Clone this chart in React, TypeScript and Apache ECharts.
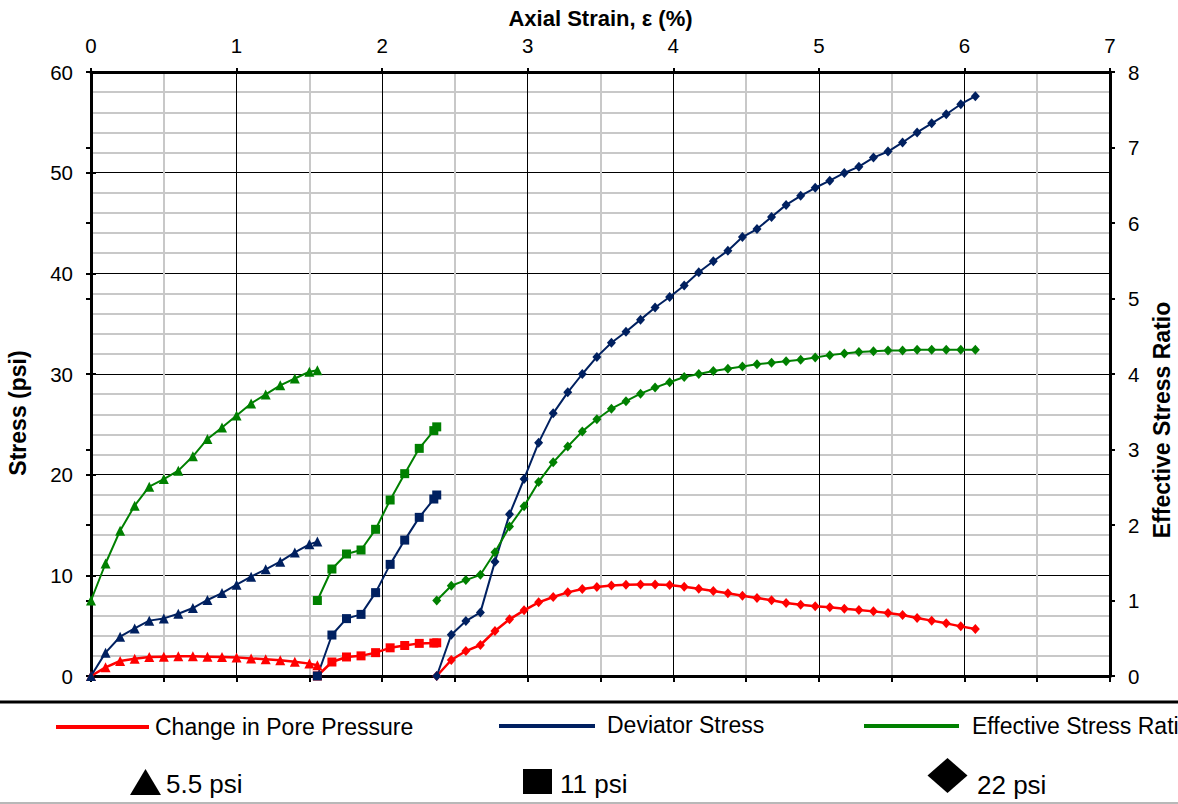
import React, { useEffect, useRef } from "react";
import * as echarts from "echarts";

// Axial strain (%) at each reading, per confining pressure
const strain55 = [0, 0.1, 0.2, 0.3, 0.4, 0.5, 0.6, 0.7, 0.8, 0.9, 1.0, 1.1, 1.2, 1.3, 1.4, 1.5, 1.555];
const strain11 = [1.555, 1.655, 1.755, 1.855, 1.955, 2.055, 2.155, 2.255, 2.355, 2.375];
const strain22 = [
  2.375, 2.475, 2.575, 2.675, 2.775, 2.875, 2.975, 3.075, 3.175, 3.275,
  3.375, 3.475, 3.575, 3.675, 3.775, 3.875, 3.975, 4.075, 4.175, 4.275,
  4.375, 4.475, 4.575, 4.675, 4.775, 4.875, 4.975, 5.075, 5.175, 5.275,
  5.375, 5.475, 5.575, 5.675, 5.775, 5.875, 5.975, 6.075,
];

// Change in pore pressure (psi)
const pore55 = [0, 0.86, 1.49, 1.72, 1.89, 1.92, 1.95, 1.95, 1.92, 1.89, 1.85, 1.75, 1.66, 1.56, 1.42, 1.23, 1.06];
const pore11 = [0, 1.39, 1.89, 2.0, 2.32, 2.8, 3.03, 3.24, 3.27, 3.3];
const pore22 = [
  0, 1.59, 2.48, 3.08, 4.47, 5.63, 6.52, 7.32, 7.85, 8.31,
  8.64, 8.84, 8.99, 9.07, 9.1, 9.08, 9.03, 8.87, 8.66, 8.44,
  8.21, 7.98, 7.75, 7.52, 7.25, 7.08, 6.92, 6.82, 6.69, 6.56,
  6.42, 6.26, 6.06, 5.76, 5.5, 5.23, 4.93, 4.67,
];

// Deviator stress (psi)
const dev55 = [0, 2.32, 3.9, 4.72, 5.5, 5.72, 6.18, 6.75, 7.55, 8.24, 9.07, 9.87, 10.6, 11.36, 12.28, 13.08, 13.35];
const dev11 = [0, 4.07, 5.7, 6.12, 8.28, 11.09, 13.5, 15.76, 17.58, 17.98];
const dev22 = [
  0, 4.1, 5.46, 6.32, 11.36, 16.06, 19.57, 23.18, 26.09, 28.18,
  30.0, 31.7, 33.1, 34.2, 35.4, 36.6, 37.65, 38.8, 40.1, 41.2,
  42.25, 43.6, 44.4, 45.6, 46.8, 47.7, 48.5, 49.2, 49.97, 50.6,
  51.5, 52.1, 53.0, 54.0, 54.9, 55.8, 56.8, 57.6,
];

// Effective stress ratio (right axis)
const esr55 = [1.0, 1.49, 1.925, 2.256, 2.508, 2.609, 2.72, 2.91, 3.14, 3.29, 3.45, 3.61, 3.73, 3.85, 3.94, 4.03, 4.05];
const esr11 = [1.0, 1.417, 1.616, 1.669, 1.943, 2.331, 2.68, 3.015, 3.25, 3.3];
const esr22 = [
  1.0, 1.196, 1.27, 1.34, 1.64, 1.98, 2.25, 2.57, 2.83, 3.04,
  3.24, 3.4, 3.54, 3.64, 3.74, 3.82, 3.89, 3.96, 4.0, 4.04,
  4.07, 4.1, 4.13, 4.15, 4.17, 4.19, 4.22, 4.25, 4.27, 4.29,
  4.3, 4.31, 4.31, 4.32, 4.32, 4.32, 4.32, 4.32,
];

const xTicks = [0, 7];
const stressRange = [0, 60];
const ratioRange = [0, 8];

const FONT = "'Liberation Sans', Arial, Helvetica, sans-serif";
const RED = "#ff0000";
const NAVY = "#002060";
const GREEN = "#008000";

type Group = {
  label: string;
  symbol: string;
  size: number | number[];
  x: number[];
  pore: number[];
  dev: number[];
  esr: number[];
};

const groups: Group[] = [
  { label: "5.5 psi", symbol: "triangle", size: 10, x: strain55, pore: pore55, dev: dev55, esr: esr55 },
  { label: "11 psi", symbol: "rect", size: 9, x: strain11, pore: pore11, dev: dev11, esr: esr11 },
  { label: "22 psi", symbol: "diamond", size: [9, 10], x: strain22, pore: pore22, dev: dev22, esr: esr22 },
];

function pairs(xs: number[], ys: number[]) {
  return xs.map((x, i) => [x, ys[i]]);
}

function buildSeries() {
  const out: any[] = [];
  groups.forEach((g) => {
    const common = {
      type: "line",
      symbol: g.symbol,
      symbolSize: g.size,
      showSymbol: true,
      emphasis: { disabled: true },
      silent: true,
    };
    out.push({
      ...common,
      name: `Change in Pore Pressure ${g.label}`,
      yAxisIndex: 0,
      color: RED,
      lineStyle: { width: 2.5, color: RED },
      itemStyle: { color: RED },
      data: pairs(g.x, g.pore),
    });
    out.push({
      ...common,
      name: `Deviator Stress ${g.label}`,
      yAxisIndex: 0,
      color: NAVY,
      lineStyle: { width: 2, color: NAVY },
      itemStyle: { color: NAVY },
      data: pairs(g.x, g.dev),
    });
    out.push({
      ...common,
      name: `Effective Stress Ratio ${g.label}`,
      yAxisIndex: 1,
      color: GREEN,
      lineStyle: { width: 2, color: GREEN },
      itemStyle: { color: GREEN },
      data: pairs(g.x, g.esr),
    });
  });
  return out;
}

function legendGraphics() {
  const txt = (x: number, y: number, s: string, size: number) => ({
    type: "text",
    x,
    y,
    style: {
      text: s,
      fontSize: size,
      fontFamily: FONT,
      fill: "#000",
      textVerticalAlign: "middle",
      textAlign: "left",
    },
  });
  const ln = (x1: number, x2: number, y: number, color: string, w: number) => ({
    type: "line",
    shape: { x1, y1: y, x2, y2: y },
    style: { stroke: color, lineWidth: w },
  });
  const vtitle = (x: number, y: number, s: string) => ({
    type: "text",
    x,
    y,
    rotation: Math.PI / 2,
    style: {
      text: s,
      fontSize: 23,
      fontWeight: "bold",
      fontFamily: FONT,
      fill: "#000",
      textAlign: "center",
      textVerticalAlign: "middle",
    },
  });
  return [
    ln(0, 1178, 702, "#000", 3),
    ln(0, 1178, 803, "#a0a0a0", 1.5),
    ln(56, 149, 727, RED, 4),
    txt(155, 727, "Change in Pore Pressure", 23),
    ln(499, 595, 726, NAVY, 4),
    txt(607, 725, "Deviator Stress", 23),
    ln(864, 959, 726, GREEN, 4),
    txt(972, 726, "Effective Stress Ratio", 23),
    {
      type: "polygon",
      shape: { points: [[145.5, 769], [161, 795], [130, 795]] },
      style: { fill: "#000" },
    },
    txt(166, 784, "5.5 psi", 26),
    {
      type: "rect",
      shape: { x: 523, y: 769, width: 29, height: 25 },
      style: { fill: "#000" },
    },
    txt(560, 784, "11 psi", 26),
    {
      type: "polygon",
      shape: { points: [[947.5, 758], [967.5, 775.5], [947.5, 793], [927.5, 775.5]] },
      style: { fill: "#000" },
    },
    txt(977, 785, "22 psi", 26),
    vtitle(18, 413, "Stress (psi)"),
    vtitle(1162, 420, "Effective Stress Ratio"),
  ];
}

export default function App() {
  const ref = useRef<HTMLDivElement>(null);

  useEffect(() => {
    document.body.style.margin = "0";
    if (!ref.current) return;
    const chart = echarts.init(ref.current, null, { renderer: "svg" });

    const labelStyle = { fontSize: 20.5, color: "#000", fontFamily: FONT };
    const blackTick = { color: "#000", width: 2 };

    chart.setOption({
      animation: false,
      backgroundColor: "#fff",
      grid: {
        left: 91,
        right: 68,
        top: 72,
        bottom: 128,
        containLabel: false,
        outerBoundsMode: "none",
      },
      xAxis: [
        {
          type: "value",
          position: "top",
          min: xTicks[0],
          max: xTicks[1],
          interval: 1,
          name: "Axial Strain, ε (%)",
          nameLocation: "middle",
          nameGap: 43,
          nameTextStyle: { fontSize: 22, fontWeight: "bold", color: "#000", fontFamily: FONT },
          axisLine: { show: true, onZero: false, lineStyle: { color: "#000", width: 3 } },
          axisTick: { show: true, inside: false, length: 4, lineStyle: blackTick },
          minorTick: { show: false, splitNumber: 2 },
          axisLabel: { ...labelStyle, margin: 16 },
          splitLine: { show: true, lineStyle: { color: "#000", width: 1 } },
          minorSplitLine: { show: true, lineStyle: { color: "#c8c8c8", width: 2 } },
          z: 3,
        },
        {
          type: "value",
          position: "top",
          min: xTicks[0],
          max: xTicks[1],
          interval: 1,
          axisLine: { show: false },
          axisTick: { show: true, inside: true, length: 6, lineStyle: blackTick },
          minorTick: { show: true, splitNumber: 2, length: 6, lineStyle: blackTick },
          axisLabel: { show: false },
          splitLine: { show: false },
        },
        {
          type: "value",
          position: "bottom",
          min: xTicks[0],
          max: xTicks[1],
          interval: 1,
          axisLine: { show: true, onZero: false, lineStyle: { color: "#000", width: 3 } },
          axisTick: { show: false },
          axisLabel: { show: false },
          splitLine: { show: false },
          z: 3,
        },
      ],
      yAxis: [
        {
          type: "value",
          position: "left",
          min: stressRange[0],
          max: stressRange[1],
          interval: 10,
          axisLine: { show: true, onZero: false, lineStyle: { color: "#000", width: 3 } },
          axisTick: { show: true, inside: false, length: 5, lineStyle: blackTick },
          minorTick: { show: false, splitNumber: 5 },
          axisLabel: { ...labelStyle, margin: 18 },
          splitLine: { show: true, lineStyle: { color: "#000", width: 1 } },
          minorSplitLine: { show: true, lineStyle: { color: "#c8c8c8", width: 2 } },
          z: 3,
        },
        {
          type: "value",
          position: "right",
          min: ratioRange[0],
          max: ratioRange[1],
          interval: 1,
          axisLine: { show: true, onZero: false, lineStyle: { color: "#000", width: 3 } },
          axisTick: { show: true, inside: false, length: 5, lineStyle: blackTick },
          axisLabel: { ...labelStyle, margin: 18 },
          splitLine: { show: false },
          z: 3,
        },
        {
          type: "value",
          position: "left",
          min: stressRange[0],
          max: stressRange[1],
          interval: 10,
          axisLine: { show: false },
          axisTick: { show: true, inside: true, length: 5, lineStyle: blackTick },
          minorTick: { show: true, splitNumber: 5, length: 5, lineStyle: blackTick },
          axisLabel: { show: false },
          splitLine: { show: false },
        },
        {
          type: "value",
          position: "right",
          min: ratioRange[0],
          max: ratioRange[1],
          interval: 1,
          axisLine: { show: false },
          axisTick: { show: true, inside: true, length: 5, lineStyle: blackTick },
          axisLabel: { show: false },
          splitLine: { show: false },
        },
      ],
      series: buildSeries(),
      graphic: legendGraphics(),
    });

    return () => {
      chart.dispose();
    };
  }, []);

  return <div ref={ref} style={{ width: 1178, height: 804 }} />;
}
